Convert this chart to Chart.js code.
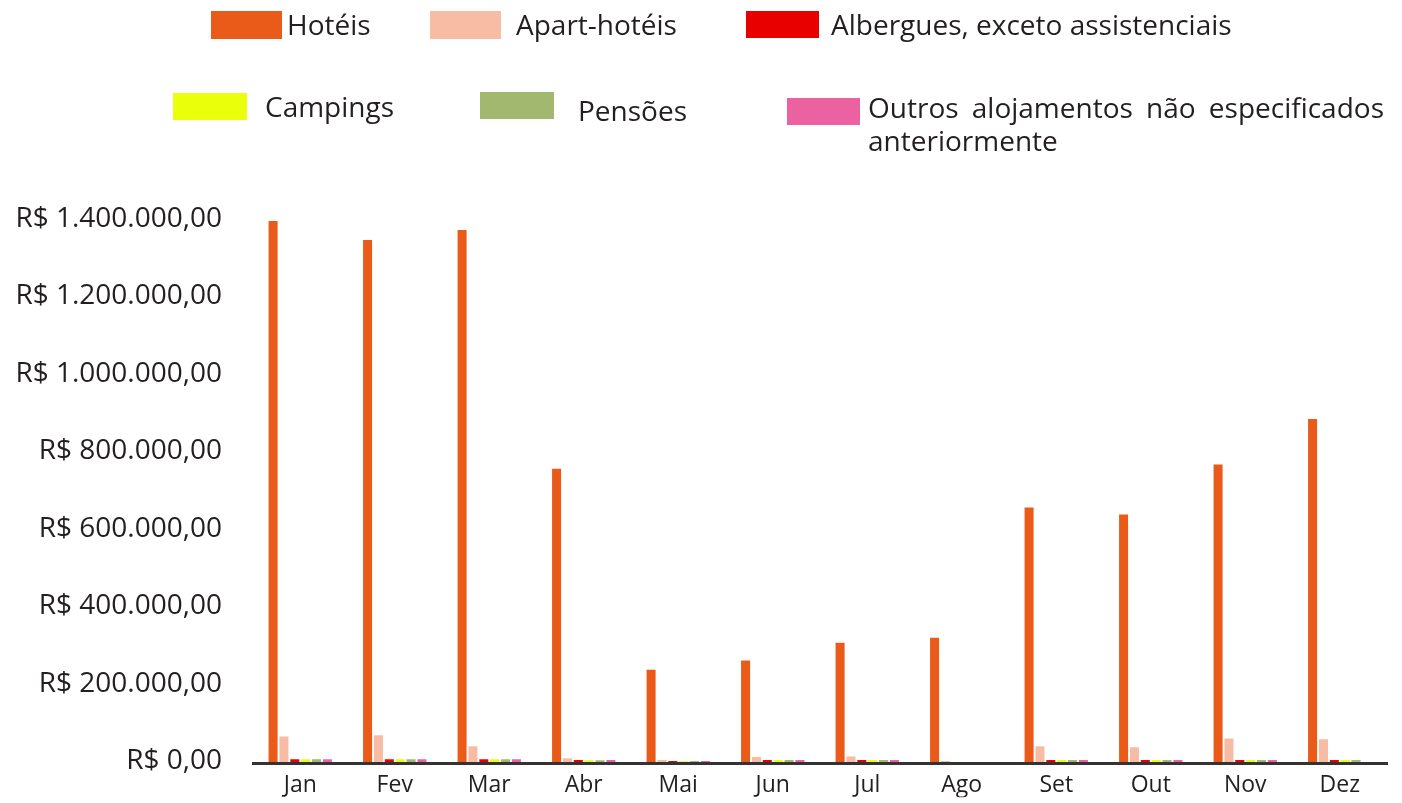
<!DOCTYPE html>
<html>
<head>
<meta charset="utf-8">
<script src="https://cdn.jsdelivr.net/npm/chart.js@4/dist/chart.umd.min.js"></script>
<style>
  html, body { margin: 0; padding: 0; background: #fff; }
  #wrap { position: relative; width: 1402px; height: 803px; overflow: hidden; font-family: "Open Sans", sans-serif; color: #231f20; }
  #chart { position: absolute; left: 0; top: 0; }
  .box { position: absolute; }
  .lbl { position: absolute; font-size: 28px; line-height: 33px; white-space: nowrap; }
</style>
</head>
<body>
<div id="wrap">
  <canvas id="chart" width="1402" height="803"></canvas>
  <div id="legend"></div>
</div>
<script>
var months = ['Jan', 'Fev', 'Mar', 'Abr', 'Mai', 'Jun', 'Jul', 'Ago', 'Set', 'Out', 'Nov', 'Dez'];
var hoteis = [1400000, 1351000, 1377000, 760000, 241000, 265000, 311000, 324000, 660000, 642000, 771000, 889000];
var apartHoteis = [69000, 72000, 44000, 13000, 8500, 16000, 17000, 6000, 44000, 41000, 64000, 62000];
var albergues = [10000, 10000, 10000, 8500, 6000, 8500, 8500, 3000, 8500, 8500, 8500, 8500];
var campings = [10000, 10000, 10000, 7700, 5000, 8500, 8500, 3000, 8500, 8500, 8500, 8500];
var pensoes = [10000, 10000, 10000, 7700, 6000, 8500, 8500, 3000, 8500, 8500, 8500, 8500];
var outros = [10000, 10000, 10000, 8500, 6000, 8500, 8500, 3000, 8500, 8500, 8500, 0];
var yTicks = [0, 200000, 400000, 600000, 800000, 1000000, 1200000, 1400000];

var seriesNames = ['Hotéis', 'Apart-hotéis', 'Albergues, exceto assistenciais', 'Campings', 'Pensões', 'Outros alojamentos não especificados anteriormente'];
var seriesColors = ['#ea5a19', '#f7bca3', '#e80000', '#eaff0a', '#a3b86f', '#ec62a0'];

// R$ 1.400.000,00
function brl(v) {
    var s = Math.round(v).toString();
    var out = '';
    while (s.length > 3) {
        out = '.' + s.slice(-3) + out;
        s = s.slice(0, -3);
    }
    return 'R$ ' + s + out + ',00';
}

// legend is laid out by hand, the original is not a regular grid
var legendSpots = [
    { box: [211, 11, 71, 28], text: [287, 8] },
    { box: [430, 11, 71, 28], text: [516, 8] },
    { box: [746, 11, 73, 27], text: [831, 8] },
    { box: [173, 93, 74, 27], text: [265, 90] },
    { box: [480, 92, 74, 27], text: [578, 94] },
    { box: [787, 98, 73, 27], text: [868, 91] }
];
var legend = document.getElementById('legend');
legendSpots.forEach(function (spot, i) {
    var b = document.createElement('div');
    b.className = 'box';
    b.style.left = spot.box[0] + 'px';
    b.style.top = spot.box[1] + 'px';
    b.style.width = spot.box[2] + 'px';
    b.style.height = spot.box[3] + 'px';
    b.style.background = seriesColors[i];
    legend.appendChild(b);
    var t = document.createElement('div');
    t.className = 'lbl';
    t.style.left = spot.text[0] + 'px';
    t.style.top = spot.text[1] + 'px';
    if (i === 5) {
        t.style.whiteSpace = 'normal';
        t.style.width = '516px';
        t.style.textAlign = 'justify';
        t.style.textAlignLast = 'left';
    }
    t.textContent = seriesNames[i];
    legend.appendChild(t);
});

var allData = [hoteis, apartHoteis, albergues, campings, pensoes, outros];
var datasets = allData.map(function (d, i) {
    return {
        label: seriesNames[i],
        data: d,
        backgroundColor: seriesColors[i],
        borderWidth: 0,
        categoryPercentage: 0.69,
        barPercentage: 0.83
    };
});

new Chart(document.getElementById('chart'), {
    type: 'bar',
    data: { labels: months, datasets: datasets },
    options: {
        responsive: false,
        maintainAspectRatio: false,
        animation: false,
        layout: { padding: { top: 221, right: 15, left: 0, bottom: 0 } },
        plugins: {
            legend: { display: false },
            tooltip: { enabled: false }
        },
        scales: {
            x: {
                grid: { display: false },
                border: { display: true, color: '#333333', width: 3, z: 1 },
                ticks: {
                    color: '#231f20',
                    font: { family: 'Open Sans', size: 23 },
                    padding: 0,
                    maxRotation: 0
                },
                afterFit: function (scale) { scale.height = 34; }
            },
            y: {
                min: 0,
                max: 1400000,
                afterBuildTicks: function (scale) {
                    scale.ticks = yTicks.map(function (v) { return { value: v }; });
                },
                grid: { display: false },
                border: { display: false },
                ticks: {
                    color: '#231f20',
                    font: { family: 'Open Sans', size: 28 },
                    padding: 23,
                    labelOffset: -2,
                    callback: function (v) { return brl(v); }
                },
                afterFit: function (scale) { scale.width = 253; }
            }
        }
    }
});
</script>
</body>
</html>
